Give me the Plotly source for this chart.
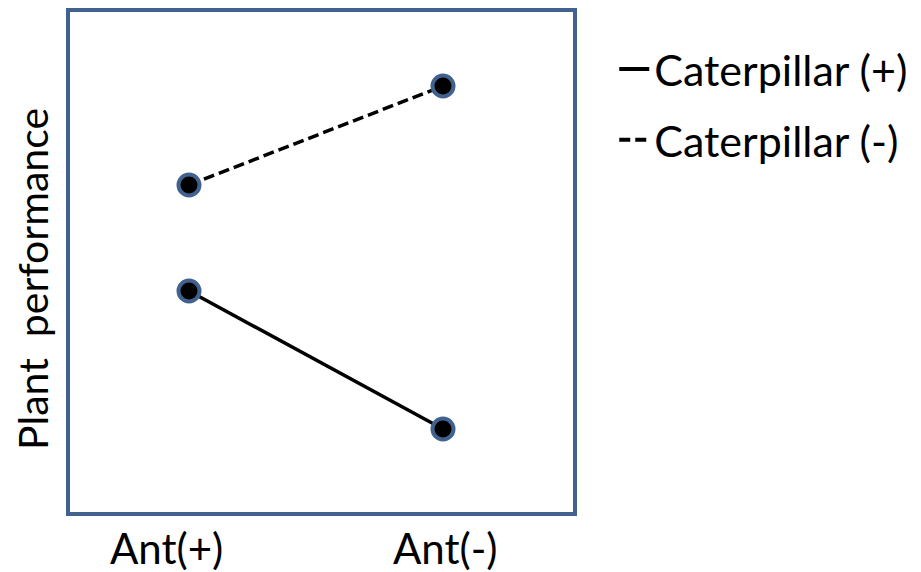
"""Interaction plot: plant performance by ant and caterpillar presence
"""

import plotly.graph_objects as go

ant_labels = ["Ant(+)", "Ant(-)"]
ant_pos = [0, 1]
cat_plus = [4.42, 1.66]
cat_minus = [6.54, 8.52]
series_names = ["Caterpillar (+)", "Caterpillar (-)"]

frame_color = "#41628f"
font_family = "Lato"

fig = go.Figure()

for name, values, dash in zip(series_names, [cat_plus, cat_minus], ["solid", "11px,5px"]):
    fig.add_trace(go.Scatter(
        x=ant_pos, y=values, mode="lines+markers", showlegend=False,
        line={"color": "black", "width": 3.5, "dash": dash},
        marker={"color": "black", "size": 21, "line": {"color": frame_color, "width": 4}},
    ))
    # legend-only entry so the key shows just the line
    fig.add_trace(go.Scatter(
        x=[None], y=[None], mode="lines", name=name, legendgroup=name,
        line={"color": "black", "width": 4, "dash": dash},
    ))

# category labels under the frame (Ant(+) sits a little left of its points)
for label, pos in zip(ant_labels, [-0.09, 1.008]):
    fig.add_annotation(x=pos, y=0, xref="x", yref="paper", text=label, showarrow=False,
                       yanchor="top", yshift=-9, font={"size": 42, "color": "black"})

fig.add_annotation(x=0, y=0.5, xref="paper", yref="paper", text="Plant  performance",
                   showarrow=False, textangle=-90, xanchor="center", yanchor="middle",
                   xshift=-38, yshift=-17, font={"size": 41, "color": "black"})

fig.update_xaxes(range=[-0.4685, 1.5118], showticklabels=False, showgrid=False, zeroline=False,
                 showline=True, mirror=True, linecolor=frame_color, linewidth=4)
fig.update_yaxes(range=[0, 10], showticklabels=False, showgrid=False, zeroline=False,
                 showline=True, mirror=True, linecolor=frame_color, linewidth=4)

# page body has an 8px margin, so the figure is 8px smaller than the window
fig.update_layout(
    width=913, height=564,
    margin={"l": 62, "r": 348, "t": 4, "b": 60, "autoexpand": False},
    plot_bgcolor="white", paper_bgcolor="white",
    font={"family": font_family, "color": "black", "size": 43},
    legend={"x": 1.082, "y": 0.955, "xanchor": "left", "yanchor": "top",
            "font": {"size": 43}, "traceorder": "grouped", "tracegroupgap": 12},
)

fig.write_html("out.html")
